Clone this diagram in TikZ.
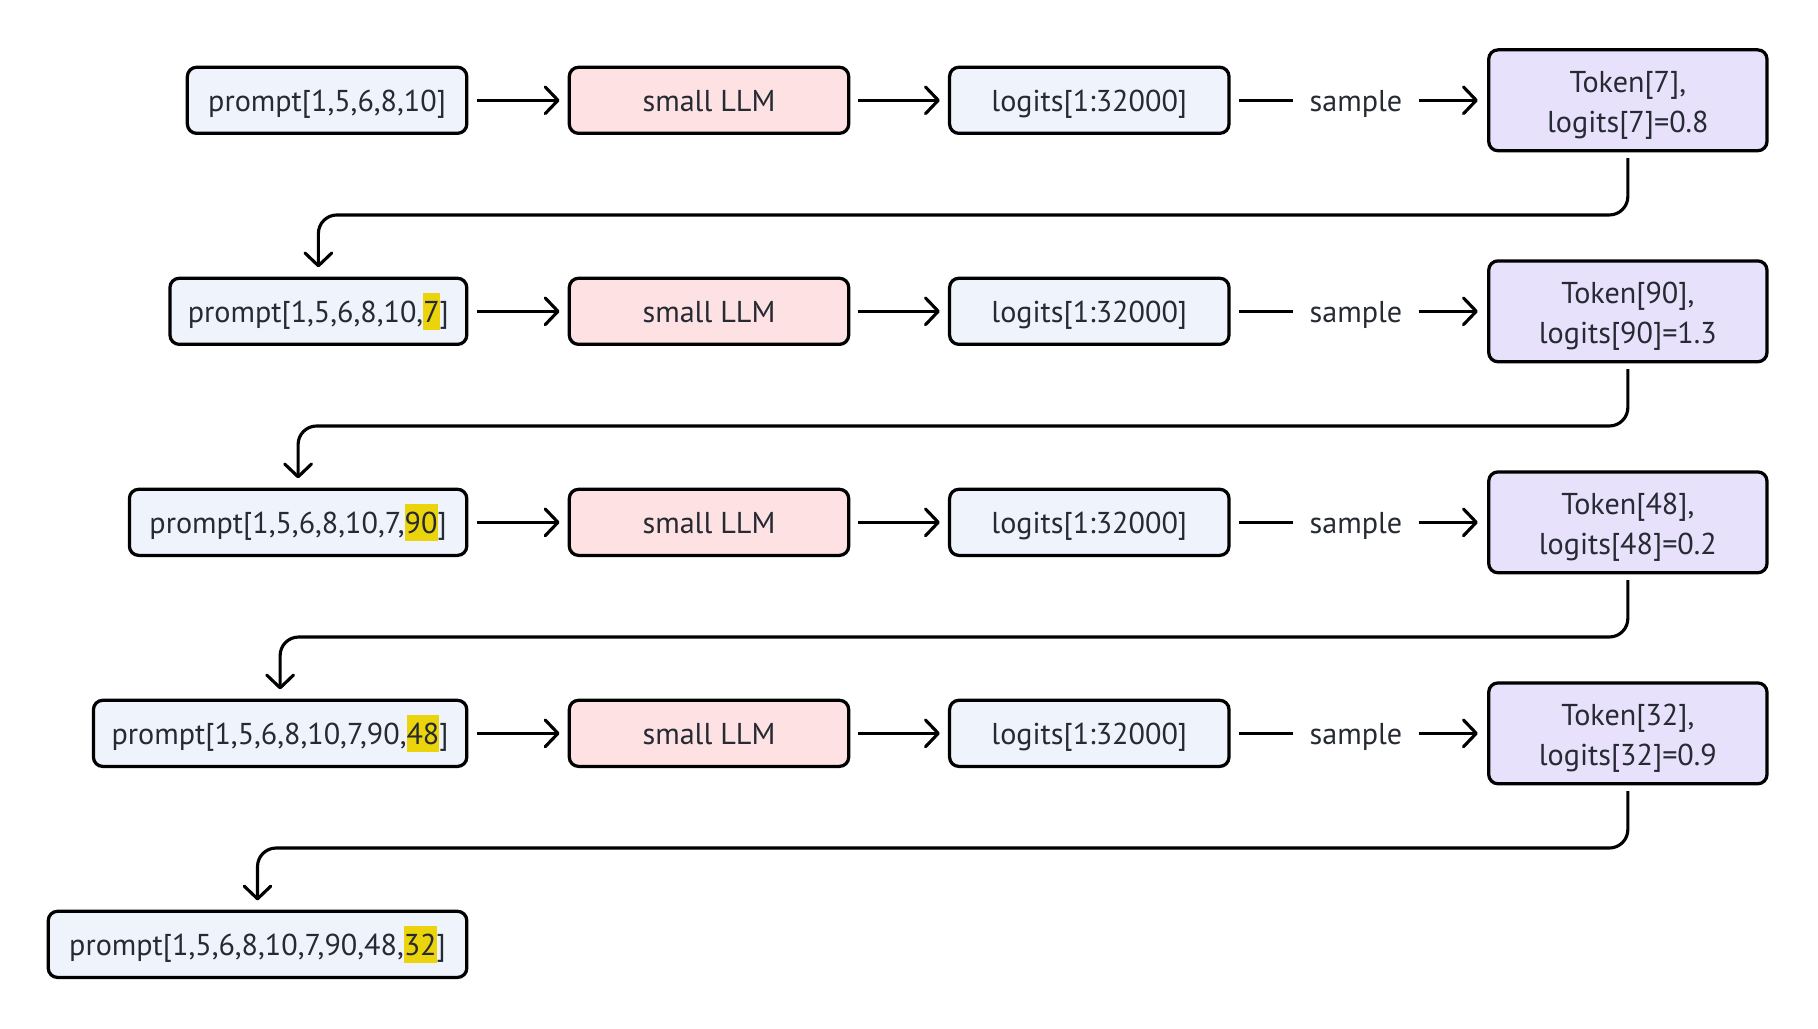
\documentclass[tikz,border=0pt]{standalone}
\usepackage{fontspec}
\setmainfont{PT Sans}
\usetikzlibrary{arrows.meta,calc}
\definecolor{pbl}{HTML}{EFF3FC}
\definecolor{pnk}{HTML}{FDE1E3}
\definecolor{lav}{HTML}{E8E1FC}
\definecolor{hly}{HTML}{ECD40C}
\definecolor{txt}{HTML}{262A33}
\newcommand\hlnum[1]{{\setlength{\fboxsep}{0pt}\colorbox{hly}{\rule[-0.23em]{0pt}{1.23em}#1}}}
\begin{document}
\begin{tikzpicture}[x=1pt,y=-1pt,
  box/.style={draw=black, line width=2.8pt, rounded corners=8pt, minimum height=57pt, inner sep=0pt, font=\fontsize{26}{34}\selectfont, text=txt, text height=20pt, text depth=0pt},
  pbox/.style={box, fill=pbl},
  lbox/.style={box, fill=pnk, minimum width=241pt},
  gbox/.style={box, fill=pbl, minimum width=241pt},
  tbox/.style={box, fill=lav, minimum width=240pt, minimum height=87pt, align=center, text height=55pt, text depth=0pt},
  lab/.style={inner xsep=14pt, inner ysep=0pt, font=\fontsize{26}{30}\selectfont, text=txt, text height=20pt, text depth=0pt},
  ln/.style={line width=2.7pt},
  arr/.style={ln, -{Straight Barb[length=11pt,width=23pt,round]}}
]
\useasboundingbox (0,0) rectangle (1568,887);
\node[pbox, anchor=east, minimum width=241pt] (p1) at (404,86.5) {prompt[1,5,6,8,10]};
\node[pbox, anchor=east, minimum width=256pt] (p2) at (404,268.5) {prompt[1,5,6,8,10,\hlnum{7}]};
\node[pbox, anchor=east, minimum width=291pt] (p3) at (404,450.5) {prompt[1,5,6,8,10,7,\hlnum{90}]};
\node[pbox, anchor=east, minimum width=322pt] (p4) at (404,632.5) {prompt[1,5,6,8,10,7,90,\hlnum{48}]};
\node[pbox, anchor=east, minimum width=361pt] (p5) at (404,814.5) {prompt[1,5,6,8,10,7,90,48,\hlnum{32}]};
\foreach \i/\j/\tk/\lv in {1/2/7/0.8, 2/3/90/1.3, 3/4/48/0.2, 4/5/32/0.9}{
  \node[lbox] (m\i) at (611.5,{86.5+182*(\i-1)}) {small LLM};
  \node[gbox] (g\i) at (939.5,{86.5+182*(\i-1)}) {logits[1:32000]};
  \node[lab] (s\i) at (1169.5,{86.5+182*(\i-1)}) {sample};
  \node[tbox] (t\i) at (1404,{86.5+182*(\i-1)}) {Token[\tk],\\logits[\tk]=\lv};
  \draw[arr, shorten <=7pt, shorten >=7pt] (p\i) -- (m\i);
  \draw[arr, shorten <=7pt, shorten >=7pt] (m\i) -- (g\i);
  \draw[ln, shorten <=7pt] (g\i) -- (s\i);
  \draw[arr, shorten >=8pt] (s\i) -- (t\i);
  \draw[arr, rounded corners=16pt, shorten <=5pt, shorten >=8pt] (t\i.south) -- ++(0,54) -| (p\j.north);
}
\end{tikzpicture}
\end{document}
